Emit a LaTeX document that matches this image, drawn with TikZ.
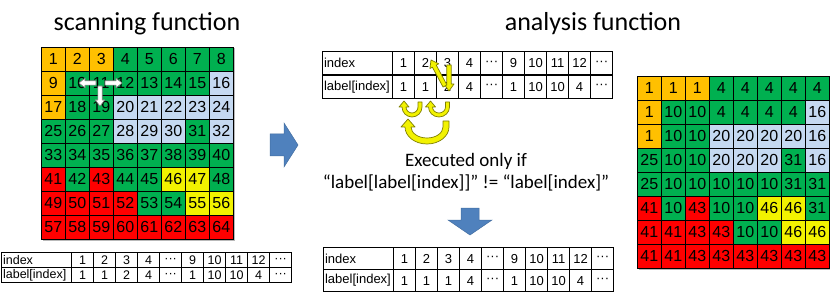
\documentclass[tikz,border=0pt]{standalone}
\usepackage{fontspec}
\setmainfont{Carlito}
\newfontfamily\gridfont{Liberation Sans}
\usetikzlibrary{calc}
\definecolor{cO}{HTML}{FFC000}
\definecolor{cG}{HTML}{00B050}
\definecolor{cB}{HTML}{C5D9F1}
\definecolor{cR}{HTML}{FF0000}
\definecolor{cY}{HTML}{F2F200}
\definecolor{arrowblue}{HTML}{4F81BD}
\definecolor{olivedark}{HTML}{7F7F00}
\tikzset{
  gcell/.style={draw=black, line width=0.6pt, minimum width=24pt, minimum height=24pt,
    inner sep=0pt, anchor=north west, font=\gridfont\fontsize{16}{16}\selectfont},
  tcell/.style={draw=black, line width=1.2pt, inner sep=0pt, anchor=north west},
  bigtab/.style={font=\gridfont\fontsize{13}{13}\selectfont},
  smalltab/.style={font=\gridfont\fontsize{12.5}{12.5}\selectfont},
  title/.style={font=\fontsize{26}{30}\selectfont, anchor=base},
  cond/.style={font=\fontsize{19}{22}\selectfont},
  bluearrow/.style={fill=arrowblue, draw=arrowblue!85!black, line width=0.5pt},
  yarrow/.style={fill=cY, draw=olivedark, line width=0.7pt, line join=round},
  warrow/.style={fill=white, draw=gray, line width=0.6pt, line join=round},
}
% block arrow: tail, tip, half shaft, half head, head length, style
\newcommand\blockarrow[6]{%
  \coordinate (ba-b) at ($(#2)!#5!(#1)$);
  \filldraw[#6] ($(#1)!#3!90:(#2)$) -- ($(ba-b)!#3!90:(#2)$) -- ($(ba-b)!#4!90:(#2)$)
    -- (#2) -- ($(ba-b)!#4!-90:(#2)$) -- ($(ba-b)!#3!-90:(#2)$) -- ($(#1)!#3!-90:(#2)$) -- cycle;}
% U-shaped curved arrow: cx, cy, rx, ry, w, hw, hl, yr
\newcommand\uarrow[8]{%
  \filldraw[yarrow] ({#1+#3+#5},#8) -- ({#1+#3+#5},#2)
    arc[start angle=0, end angle=-180, x radius={(#3+#5)*1pt}, y radius={(#4+#5)*1pt}]
    -- ({#1-#3-#6},#2) -- ({#1-#3},{#2-#7}) -- ({#1-#3+#6},#2) -- ({#1-#3+#5},#2)
    arc[start angle=180, end angle=360, x radius={(#3-#5)*1pt}, y radius={(#4-#5)*1pt}]
    -- ({#1+#3-#5},#8) -- cycle;}
% two-row data table: name, x0, y0, row height, style, label list
\newcommand\datatable[6]{%
  \node[tcell, #5, minimum height=#4pt, text width=67pt, inner xsep=1.5pt, align=left] (#1-h1) at (#2,#3) {index};
  \node[tcell, #5, minimum height=#4pt, text width=67pt, inner xsep=1.5pt, align=left] (#1-h2) at (#2,{#3+#4}) {label[index]};
  \foreach \v [count=\i] in {1,2,3,4,···,9,10,11,12,···}
    \node[tcell, #5, minimum width=22pt, minimum height=#4pt] (#1-a\i) at ({#2+70+(\i-1)*22},#3) {\v};
  \foreach \v [count=\i] in {#6}
    \node[tcell, #5, minimum width=22pt, minimum height=#4pt] (#1-b\i) at ({#2+70+(\i-1)*22},{#3+#4}) {\v};
}
\begin{document}
\begin{tikzpicture}[x=1pt, y=-1pt]
\useasboundingbox (0,0) rectangle (830,294);
% titles
\node[title] (t-scan) at (147,31) {scanning function};
\node[title] (t-anal) at (593,31) {analysis function};
% grid shadows
\fill[gray!55] (42.5,48.5) rectangle (235,241);
\fill[gray!55] (638.5,77.5) rectangle (830,270);
% grids
\foreach \r/\vs in {
  1/{O/1,O/1,O/1,G/4,G/4,G/4,G/4,G/4},
  2/{O/1,G/10,G/10,G/4,G/4,G/4,G/4,B/16},
  3/{O/1,G/10,G/10,B/20,B/20,B/20,B/20,B/16},
  4/{G/25,G/10,G/10,B/20,B/20,B/20,G/31,B/16},
  5/{G/25,G/10,G/10,G/10,G/10,G/10,G/31,G/31},
  6/{R/41,G/10,R/43,G/10,G/10,Y/46,Y/46,G/31},
  7/{R/41,R/41,R/43,R/43,G/10,G/10,Y/46,Y/46},
  8/{R/41,R/41,R/43,R/43,R/43,R/43,R/43,R/43}}{
  \foreach \cc/\v [count=\i] in \vs {
    \pgfmathtruncatemacro\num{(\r-1)*8+\i}
    \node[gcell, fill=c\cc] (L-\r-\i) at ({41+(\i-1)*24},{47+(\r-1)*24}) {\num};
    \node[gcell, fill=c\cc] (R-\r-\i) at ({637+(\i-1)*24},{76+(\r-1)*24}) {\v};
  }
}
% white scan arrows in left grid
\coordinate (w-c) at (96,83);
\coordinate (w-l) at (79,83);
\coordinate (w-r0) at (105,83);
\coordinate (w-r) at (122,83);
\coordinate (w-d0) at (100,86);
\coordinate (w-d) at (100,106);
\blockarrow{w-d0}{w-d}{2.2pt}{4.8pt}{6pt}{warrow}
\blockarrow{w-c}{w-l}{2.2pt}{4.8pt}{6pt}{warrow}
\blockarrow{w-r0}{w-r}{2.2pt}{4.8pt}{6pt}{warrow}
% tables
\datatable{TL}{1}{252}{15}{smalltab}{1,1,2,4,···,1,10,10,4,···}
\datatable{TT}{322}{51}{23.5}{bigtab}{1,1,2,4,···,1,10,10,4,···}
\datatable{TB}{323}{247}{22}{bigtab}{1,1,1,4,···,1,10,10,4,···}
% blue block arrows
\filldraw[bluearrow] (270,134) -- (284,134) -- (284,123) -- (298,145) -- (284,167) -- (284,156) -- (270,156) -- cycle;
\filldraw[bluearrow] (461,208) -- (479,208) -- (479,220) -- (492,220) -- (470,235) -- (448,220) -- (461,220) -- cycle;
% yellow arrows in top table
\coordinate (y-d0) at (449,65);
\coordinate (y-d1) at (449,91);
\coordinate (y-g0) at (445,86);
\coordinate (y-g1) at (431,60);
\blockarrow{y-d0}{y-d1}{2.2pt}{5pt}{7pt}{yarrow}
\blockarrow{y-g0}{y-g1}{2.2pt}{5pt}{7pt}{yarrow}
% curved yellow arrows
\uarrow{412}{107}{8}{8}{2}{5}{6}{102}
\uarrow{439}{107}{8.5}{8}{2}{5}{6}{102}
\uarrow{427}{127}{19}{14}{3}{7}{8}{121}
% condition text
\node[cond] (cond1) at (466,161) {Executed only if};
\node[cond] (cond2) at (466,183) {“label[label[index]]” != “label[index]”};
\end{tikzpicture}
\end{document}
